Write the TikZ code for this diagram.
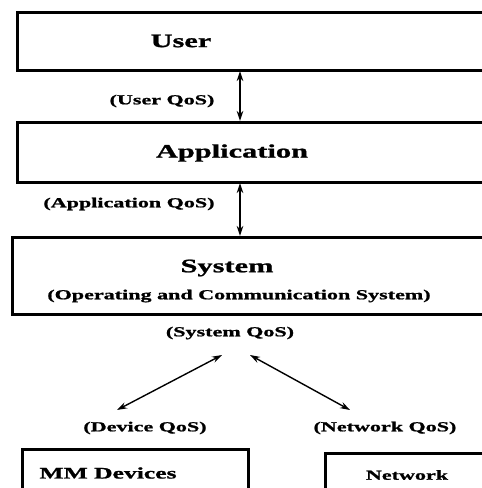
\documentclass[tikz,border=0pt]{standalone}
\usepackage{fontspec}
\usetikzlibrary{arrows.meta}
\setmainfont{Liberation Serif}
\newfontfamily\widebold[FakeStretch=1.6,FakeBold=1.2]{Liberation Serif Bold}
\begin{document}
\begin{tikzpicture}[x=1pt,y=-1pt,
  layer/.style={draw,line width=3pt},
  biglabel/.style={font=\widebold\fontsize{19}{22}\selectfont,inner sep=0pt},
  smalllabel/.style={font=\widebold\fontsize{13.8}{16}\selectfont,inner sep=0pt},
  qosarrow/.style={<->,>={Stealth[length=10pt,width=6.5pt]},line width=1.4pt}]
\useasboundingbox (0,0) rectangle (482,488);
\clip (0,0) rectangle (482,488);
% stacked layers, running off the right edge
\draw[layer] (17,12) rectangle (500,70);
\draw[layer] (17,122) rectangle (500,182);
\draw[layer] (12,237) rectangle (500,314);
% device and network boxes, running off the bottom edge
\draw[layer] (22,449) rectangle (248,500);
\draw[layer] (325,453) rectangle (500,500);
\node[biglabel] (user) at (181,41) {User};
\node[biglabel] (app) at (232,153) {Application};
\node[biglabel] (sys) at (227,268) {System};
\node[smalllabel] (ocs) at (239,296) {(Operating and Communication System)};
\node[smalllabel] (uq) at (162,101) {(User QoS)};
\node[smalllabel] (aq) at (129,204) {(Application QoS)};
\node[smalllabel] (sq) at (230,333) {(System QoS)};
\node[smalllabel] (dq) at (145,428) {(Device QoS)};
\node[smalllabel] (nq) at (385,428) {(Network QoS)};
\node[smalllabel,font=\widebold\fontsize{16}{18}\selectfont] (mm) at (108,473) {MM Devices};
\node[smalllabel] (net) at (407,475) {Network};
% connectors
\coordinate (ua) at (240,71);
\coordinate (ab) at (240,121);
\coordinate (as) at (240,183);
\coordinate (sb) at (240,236);
\coordinate (sl) at (222,355);
\coordinate (dl) at (117,410);
\coordinate (sr) at (250,355);
\coordinate (nr) at (350,410);
\draw[qosarrow] (ua) -- (ab);
\draw[qosarrow] (as) -- (sb);
\draw[qosarrow] (sl) -- (dl);
\draw[qosarrow] (sr) -- (nr);
\end{tikzpicture}
\end{document}
